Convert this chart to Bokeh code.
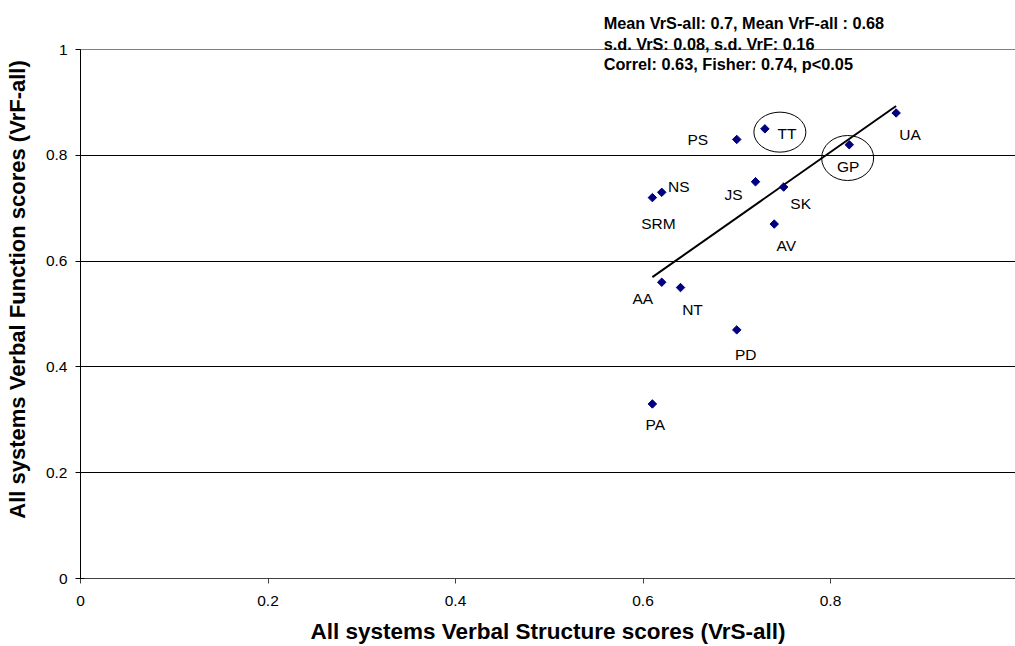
import numpy as np
from bokeh.plotting import figure
from bokeh.models import FixedTicker, Label, ColumnDataSource, Range1d, Span
from bokeh.core.properties import value
from bokeh.embed import file_html
from bokeh.resources import INLINE

# ---- data ----
names = ["PS", "TT", "GP", "UA", "NS", "SRM", "JS", "SK", "AV", "AA", "NT", "PD", "PA"]
vrs_all = [0.70, 0.73, 0.82, 0.87, 0.62, 0.61, 0.72, 0.75, 0.74, 0.62, 0.64, 0.70, 0.61]
vrf_all = [0.83, 0.85, 0.82, 0.88, 0.73, 0.72, 0.75, 0.74, 0.67, 0.56, 0.55, 0.47, 0.33]
highlighted = ["TT", "GP"]
x_ticks = [0, 0.2, 0.4, 0.6, 0.8]
x_tick_labels = ["0", "0.2", "0.4", "0.6", "0.8"]
y_ticks = [0, 0.2, 0.4, 0.6, 0.8, 1.0]
y_tick_labels = ["0", "0.2", "0.4", "0.6", "0.8", "1"]
stats_lines = [
    "Mean VrS-all: 0.7, Mean VrF-all : 0.68",
    "s.d. VrS: 0.08, s.d. VrF: 0.16",
    "Correl: 0.63, Fisher: 0.74, p<0.05",
]

# ---- styling / placement (screen pixels) ----
label_dx = [-39, 22, -1, 14, 17, 6, -22, 17, 12, -19, 12, 9, 3]
label_dy = [0, 5, 22, 22, -6, 26, 13, 16, 21, 16, 22, 25, 21]
ellipse_dx = [15, -1.6]
ellipse_dy = [3.3, 13.3]
ellipse_w = [52, 52]
ellipse_h = [40, 45]

FONT = "Liberation Sans"
W, H = 1015, 646
LEFT, TOP, BOTTOM = 80, 0, 68
frame_w = W - LEFT
frame_h = H - TOP - BOTTOM
px_per_x = 937.5
px_per_y = 529.0
x_max = frame_w / px_per_x
y_max = frame_h / px_per_y
y_top = y_ticks[-1]

p = figure(width=W, height=H, output_backend="svg", toolbar_location=None,
           x_range=Range1d(0, x_max), y_range=Range1d(0, y_max),
           min_border_left=LEFT, min_border_right=0, min_border_top=TOP,
           min_border_bottom=BOTTOM, outline_line_color=None,
           background_fill_color="white", border_fill_color="white")

# grid
p.xgrid.grid_line_color = None
p.ygrid.ticker = FixedTicker(ticks=[t for t in y_ticks if 0 < t < y_top])
p.ygrid.grid_line_color = "black"
p.ygrid.grid_line_width = 1
p.add_layout(Span(location=y_top, dimension="width", line_color="#808080", line_width=1))

# axes
p.xaxis.ticker = FixedTicker(ticks=x_ticks)
p.xaxis.major_label_overrides = dict(zip(x_ticks, x_tick_labels))
p.yaxis.ticker = FixedTicker(ticks=y_ticks)
p.yaxis.major_label_overrides = dict(zip(y_ticks, y_tick_labels))
p.yaxis.bounds = (y_ticks[0], y_top)
for ax in (p.xaxis[0], p.yaxis[0]):
    ax.minor_tick_line_color = None
    ax.major_label_text_font = FONT
    ax.major_label_text_font_size = "15.5px"
    ax.major_label_text_color = "black"
    ax.axis_label_text_font = FONT
    ax.axis_label_text_font_style = "bold"
    ax.axis_label_text_color = "black"
p.xaxis.axis_label_text_font_size = "22.5px"
p.yaxis.axis_label_text_font_size = "22px"
p.xaxis.axis_line_color = "#404040"
p.xaxis.major_tick_line_color = "#404040"
p.xaxis.major_tick_out = 5
p.xaxis.major_tick_in = 0
p.xaxis.major_label_standoff = 12
p.xaxis.axis_label_standoff = 10
p.xaxis.axis_label = "All systems Verbal Structure scores (VrS-all)"
p.yaxis.axis_line_color = "black"
p.yaxis.major_tick_line_color = "black"
p.yaxis.major_tick_out = 5
p.yaxis.major_tick_in = 4
p.yaxis.major_label_standoff = 8
p.yaxis.axis_label_standoff = 13
p.yaxis.axis_label = "All systems Verbal Function scores (VrF-all)"

# regression line
slope, intercept = np.polyfit(vrs_all, vrf_all, 1)
xs = np.array([min(vrs_all), max(vrs_all)])
p.line(xs, slope * xs + intercept, line_color="black", line_width=2)

# points
src = ColumnDataSource(dict(x=vrs_all, y=vrf_all, name=names, dx=label_dx, dy=label_dy))
p.scatter("x", "y", source=src, marker="square", angle=np.pi / 4, size=6,
          fill_color="#000080", line_color="#000080")
p.text("x", "y", text="name", source=src, x_offset="dx", y_offset="dy",
       text_font=value(FONT), text_font_size="15.5px", text_color="black",
       text_align="center", text_baseline="middle")

# highlight ellipses
ex, ey = [], []
for n, dx, dy in zip(highlighted, ellipse_dx, ellipse_dy):
    i = names.index(n)
    ex.append(vrs_all[i] + dx / px_per_x)
    ey.append(vrf_all[i] - dy / px_per_y)
p.ellipse(ex, ey, width=ellipse_w, height=ellipse_h, width_units="screen",
          height_units="screen", fill_color=None, line_color="black", line_width=1)

# stats text
stats_x = 0.558
stats_y0 = 1.0497
line_step = 20.5 / px_per_y
for k, t in enumerate(stats_lines):
    p.add_layout(Label(x=stats_x, y=stats_y0 - k * line_step, text=t,
                       text_font=FONT, text_font_style="bold", text_font_size="16.3px",
                       text_color="black", text_baseline="middle", text_align="left"))

open("out.html", "w").write(file_html(p, INLINE))
